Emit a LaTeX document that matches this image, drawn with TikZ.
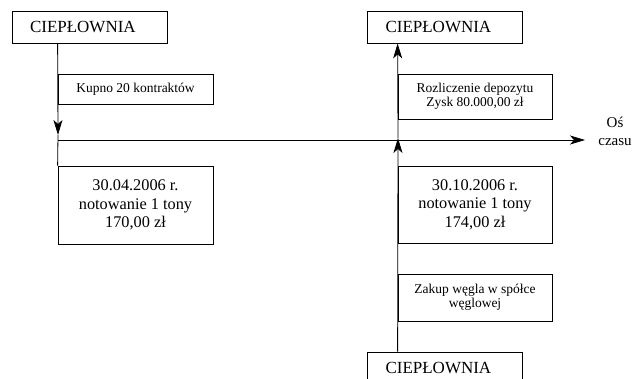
\documentclass[tikz,border=0pt]{standalone}
\usepackage{fontspec}
\setmainfont{Liberation Serif}
\usetikzlibrary{arrows.meta}

\begin{document}
\begin{tikzpicture}[
    x=1pt, y=-1pt,
    tip/.tip={Stealth[length=15pt, width=9pt, inset=4pt]},
    box/.style={draw, line width=0.8pt, align=center, inner sep=0pt},
    heat/.style={box, font=\fontsize{17}{19}\selectfont, align=left, text width=119pt, inner xsep=18pt, minimum height=32pt},
    date/.style={box, font=\fontsize{16.3}{18.5}\selectfont, minimum width=155pt, minimum height=78pt},
    info/.style={box, font=\fontsize{13.5}{14.5}\selectfont, minimum width=155pt},
    axis/.style={-tip, line width=0.7pt},
    flow/.style={line width=0.8pt}
]
\useasboundingbox (0,0) rectangle (632,378);

% --------------------------------------------------------------------------
% Time axis
% --------------------------------------------------------------------------
\coordinate (ax0) at (58,140);
\coordinate (ax1) at (585,140);
\draw[axis] (ax0) -- (ax1);
\node[align=center, font=\fontsize{15}{18}\selectfont] (axlabel) at (615,131) {Oś\\czasu};

% --------------------------------------------------------------------------
% Buying the contracts
% --------------------------------------------------------------------------
\node[heat] (lheat) at (89.5,27) {CIEPŁOWNIA};
\node[info, minimum height=30pt] (kupno) at (135.5,89) {Kupno 20 kontraktów};
\node[date] (date1) at (135.5,205) {30.04.2006 r.\\notowanie 1 tony\\170,00 zł};

\coordinate (ltip) at (58,135);
\draw[flow, -tip] (lheat.south -| date1.west) -- (ltip);
\draw[flow] (ltip) -- (date1.north west);

% --------------------------------------------------------------------------
% Settlement and coal purchase
% --------------------------------------------------------------------------
\node[heat] (rheat) at (445,27) {CIEPŁOWNIA};
\node[info, minimum width=154pt, minimum height=45pt] (rozl) at (475,96.5) {Rozliczenie depozytu\\Zysk 80.000,00 zł};
\node[date, minimum width=154pt, minimum height=77pt] (date2) at (475,204.5) {30.10.2006 r.\\notowanie 1 tony\\174,00 zł};
\node[info, minimum width=154pt, minimum height=47pt] (zakup) at (475,297.5) {Zakup węgla w spółce\\węglowej};
\node[heat] (bheat) at (445,368) {CIEPŁOWNIA};

\coordinate (rtip) at (398,138);
\draw[flow, -tip] (bheat.north -| zakup.west) -- (rtip);
\draw[flow, -tip] (rtip) -- (rheat.south -| rozl.west);

\end{tikzpicture}
\end{document}
